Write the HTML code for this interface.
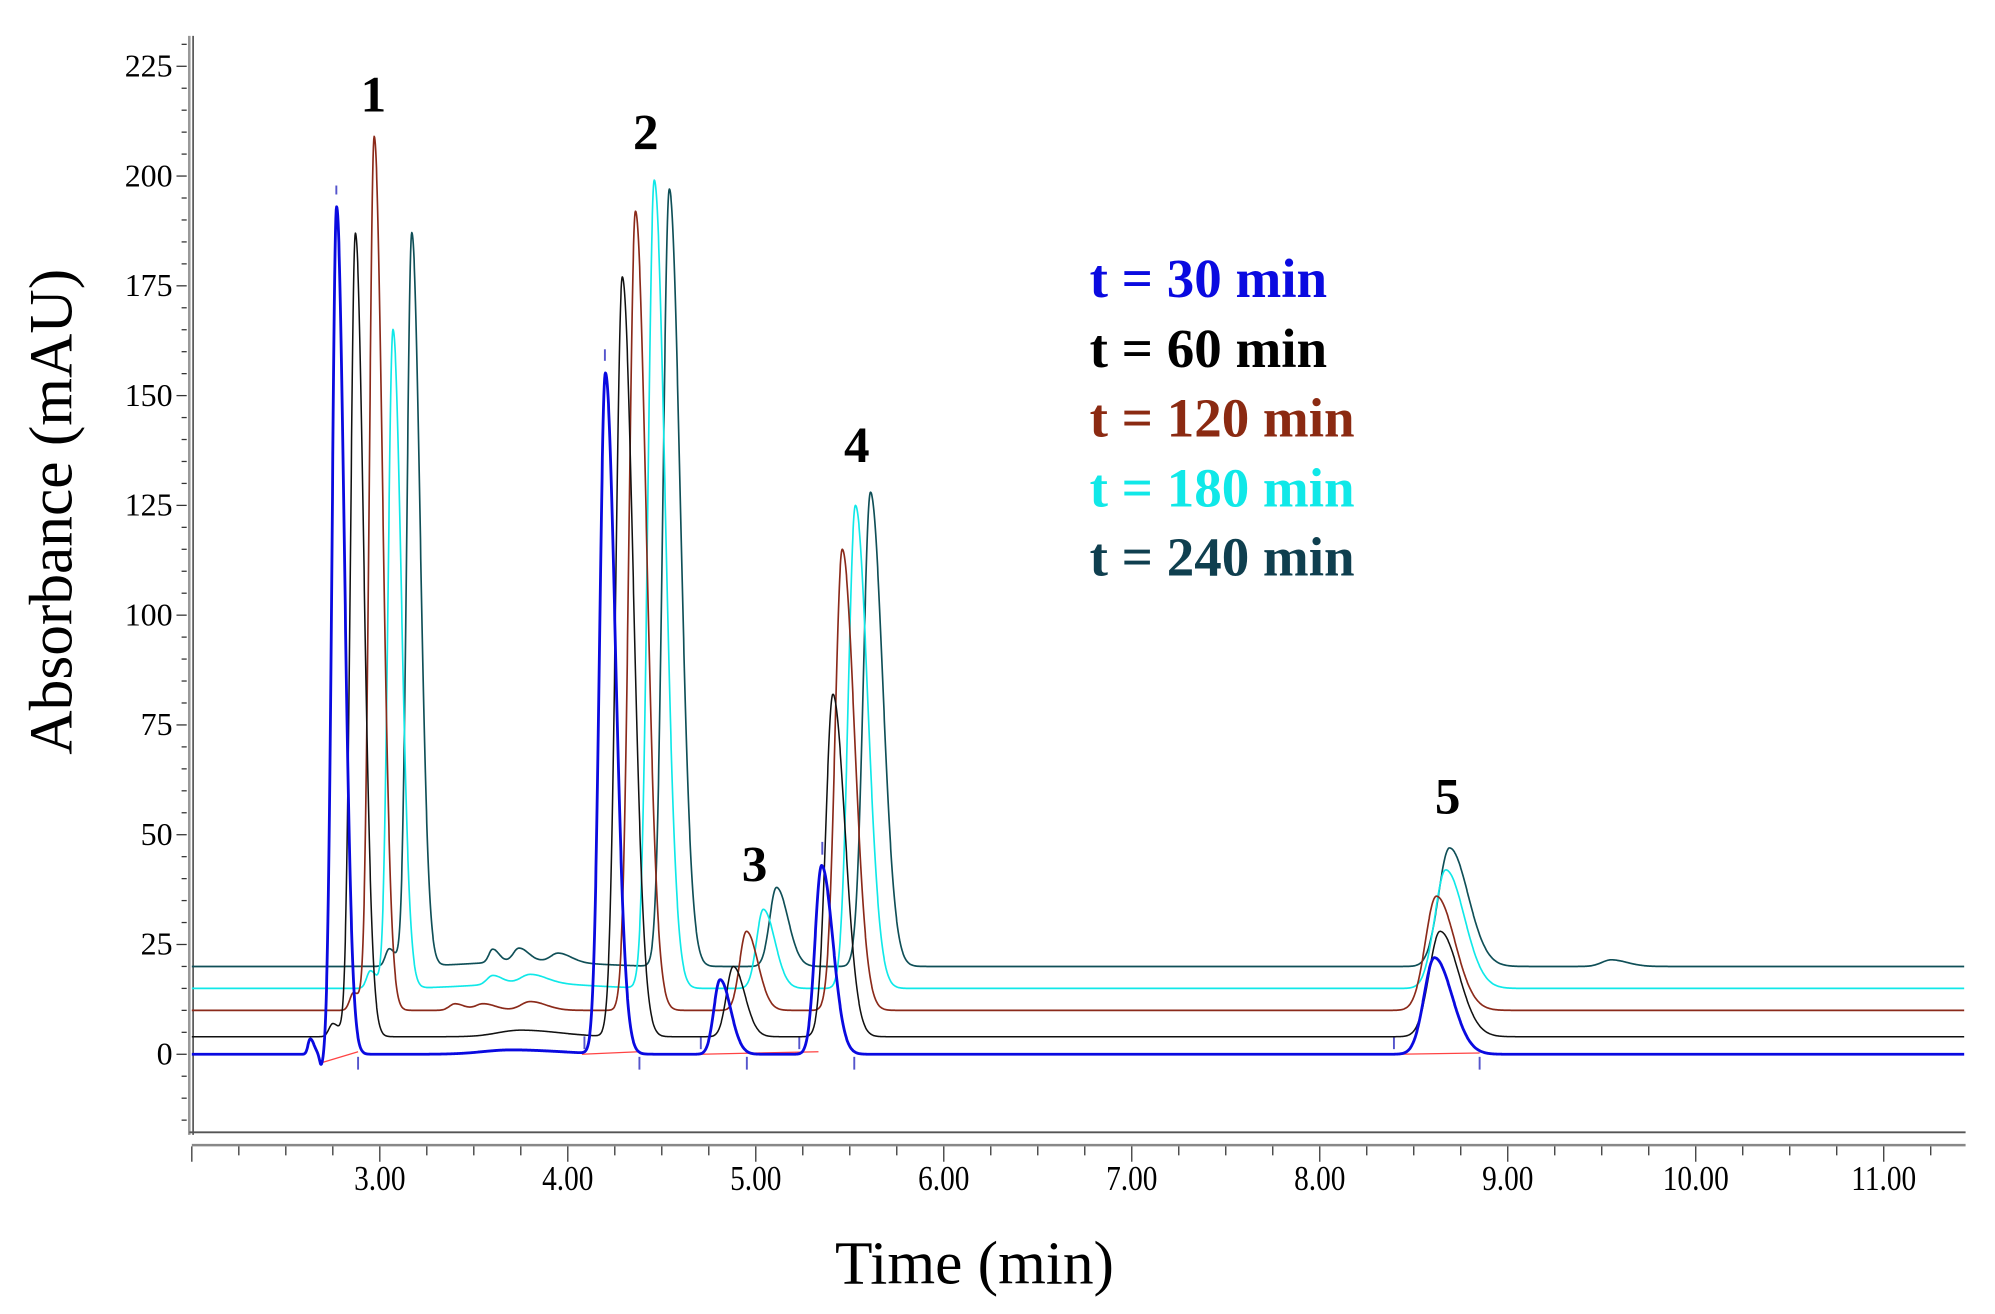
<!DOCTYPE html>
<html><head><meta charset="utf-8"><style>
html,body{margin:0;padding:0;background:#fff;}
svg{display:block;}
text{font-family:"Liberation Serif",serif;}
</style></head><body>
<svg id="s" width="1995" height="1314" viewBox="0 0 1560 1027" preserveAspectRatio="none" xmlns="http://www.w3.org/2000/svg">
<rect width="1560" height="1027" fill="#fff"/>
<g id="axes"></g>
<g id="series" fill="none" stroke-linejoin="round"></g>
<g font-weight="bold" font-size="40" fill="#000" text-anchor="middle">
<text x="292" y="87">1</text>
<text x="505" y="117">2</text>
<text x="590" y="689">3</text>
<text x="670" y="361">4</text>
<text x="1132" y="636">5</text>
</g>
<g font-weight="bold" font-size="43">
<text x="852" y="232" fill="#0a0ae0">t = 30 min</text>
<text x="852" y="287" fill="#000">t = 60 min</text>
<text x="852" y="341" fill="#8b2a12">t = 120 min</text>
<text x="852" y="396" fill="#10e8e8">t = 180 min</text>
<text x="852" y="450" fill="#0f3f4f">t = 240 min</text>
</g>
<text x="762" y="1003" font-size="48" text-anchor="middle">Time (min)</text>
<text transform="translate(56,400) rotate(-90)" font-size="48" text-anchor="middle">Absorbance (mAU)</text>
</svg>
<script>
function X(t){return 150+(t-2)*147;}
function Y(v){return 824-v*85.8/25;}
var ax=document.getElementById('axes'),h='';
h+='<line x1="148" y1="28" x2="148" y2="887" stroke="#999" stroke-width="2"/>';
h+='<line x1="151" y1="28" x2="151" y2="887" stroke="#444" stroke-width="1.2"/>';
h+='<line x1="148" y1="885" x2="1537" y2="885" stroke="#555" stroke-width="1.5"/>';
h+='<line x1="150" y1="895" x2="1537" y2="895" stroke="#888" stroke-width="2"/>';
for(var v=-15;v<=230;v+=5){var y=Y(v);var L=(v%25==0)?8:4;h+='<line x1="'+(146-L)+'" y1="'+y+'" x2="146" y2="'+y+'" stroke="#333" stroke-width="1"/>';}
for(var v=0;v<=225;v+=25){h+='<text x="135" y="'+(Y(v)+8)+'" font-size="25" text-anchor="end">'+v+'</text>';}
for(var t=2;t<=11.45;t+=0.25){var x=X(t);var L=(Math.abs(t-Math.round(t))<0.01)?12:7;h+='<line x1="'+x+'" y1="896" x2="'+x+'" y2="'+(896+L)+'" stroke="#333" stroke-width="1"/>';}
for(var t=3;t<=11;t++){h+='<text x="'+X(t)+'" y="930" font-size="27" text-anchor="middle" transform="translate('+X(t)+',0) scale(0.85,1) translate('+(-X(t))+',0)">'+t+'.00</text>';}
ax.innerHTML=h;
function pk(t,c,a,s){var d=t-c;var sg=d<0?s:s*1.7;return a*Math.exp(-d*d/(2*sg*sg));}
var S=[
 {col:"#0f4f57",base:20,w:1.3,p:[[3.05,4,0.02],[3.17,167,0.026],[3.6,3,0.02],[3.74,3,0.03],[3.95,2,0.04],[4.54,177,0.034],[5.11,18,0.036],[5.61,108,0.038],[8.69,27,0.058],[9.55,1.5,0.05]],drift:1},
 {col:"#10e8e8",base:15,w:1.3,p:[[2.95,4,0.02],[3.07,150,0.026],[3.6,2,0.03],[3.8,2,0.05],[4.46,184,0.034],[5.04,18,0.036],[5.53,110,0.038],[8.67,27,0.058]],drift:1},
 {col:"#8b2a1a",base:10,w:1.3,p:[[2.86,4,0.02],[2.97,199,0.026],[3.4,1.5,0.03],[3.55,1.5,0.04],[3.8,2,0.05],[4.36,182,0.034],[4.95,18,0.036],[5.46,105,0.038],[8.62,26,0.058]],drift:0},
 {col:"#111",base:4,w:1.2,p:[[2.75,3,0.02],[2.87,183,0.026],[3.75,1.5,0.12],[4.29,173,0.034],[4.88,16,0.036],[5.41,78,0.038],[8.64,24,0.058]],drift:0},
 {col:"#0a0ae0",base:0,w:2.2,p:[[2.63,3.5,0.012],[2.69,-3,0.01],[2.77,193,0.024],[3.7,1,0.15],[4.2,155,0.031],[4.81,17,0.033],[5.35,43,0.035],[8.61,22,0.055]],drift:0}
];
var g=document.getElementById('series'),o='';
o+='<g stroke="#f44" stroke-width="1"><line x1="250" y1="831" x2="280" y2="822"/><line x1="455" y1="824" x2="500" y2="822"/><line x1="548" y1="824" x2="640" y2="822"/><line x1="1090" y1="824" x2="1157" y2="823"/></g>';
o+='<g stroke="#5555cc" stroke-width="1.5">';
[[263,145,152],[280,826,836],[473,273,282],[457,810,820],[500,826,836],[548,810,820],[584,826,836],[643,658,668],[625,810,820],[668,826,836],[1090,810,820],[1157,826,836]].forEach(function(m){o+='<line x1="'+m[0]+'" y1="'+m[1]+'" x2="'+m[0]+'" y2="'+m[2]+'"/>';});
o+='</g>';
S.forEach(function(s){var d='';for(var t=2;t<=11.43;t+=0.002){var v=s.base;s.p.forEach(function(p){v+=pk(t,p[0],p[1],p[2]);});
 if(s.drift)v+=1.2*Math.exp(-Math.pow((t-3.8)/0.4,2));
 d+=(d?'L':'M')+X(t).toFixed(1)+','+Y(v).toFixed(1);}
 o+='<path d="'+d+'" stroke="'+s.col+'" stroke-width="'+s.w+'"/>';});
g.innerHTML=o;
</script>
</body></html>
